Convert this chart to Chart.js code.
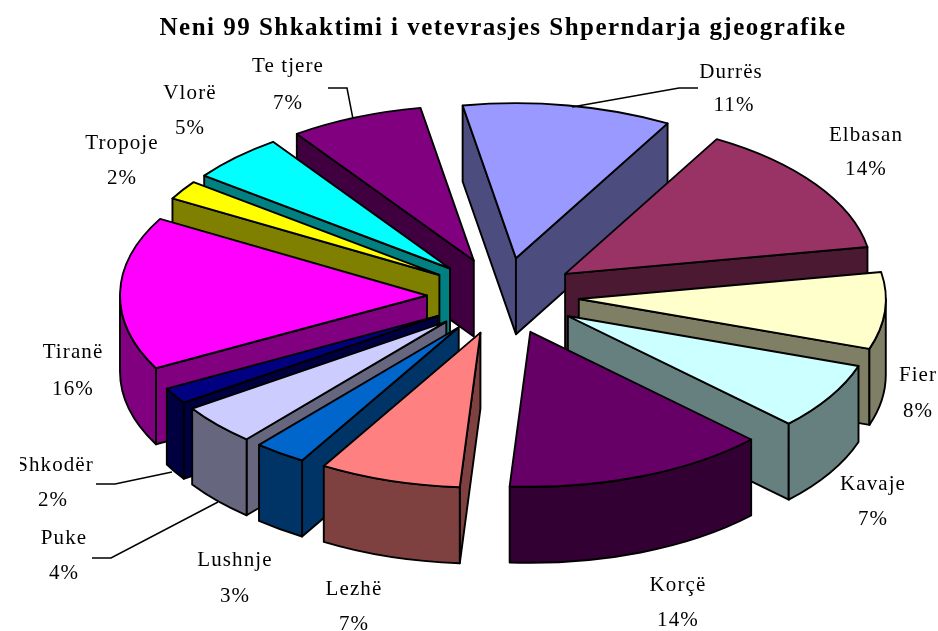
<!DOCTYPE html>
<html>
<head>
<meta charset="utf-8">
<style>html,body{margin:0;padding:0;background:#fff}canvas{display:block}</style>
<script src="https://cdn.jsdelivr.net/npm/chart.js@4/dist/chart.umd.js"></script>
</head>
<body>
<canvas id="c" width="938" height="631" style="width:938px;height:631px"></canvas>
<script>
const chartTitle = "Neni 99 Shkaktimi i vetevrasjes Shperndarja gjeografike";
const categories = ["Durrës","Elbasan","Fier","Kavaje","Korçë","Lezhë","Lushnje","Puke","Shkodër","Tiranë","Tropoje","Vlorë","Te tjere"];
const shares = [11,14,8,7,13.85,7.45,2.75,4.25,1.7,16,2,5,7];
const percentLabels = ["11%","14%","8%","7%","14%","7%","3%","4%","2%","16%","2%","5%","7%"];
const topColours = ["#9999FF","#993366","#FFFFCC","#CCFFFF","#660066","#FF8080","#0066CC","#CCCCFF","#000080","#FF00FF","#FFFF00","#00FFFF","#800080"];
const sideColours = ["#4C4C7F","#4C1933","#7F7F66","#667F7F","#330033","#7F4040","#003366","#66667F","#000040","#800080","#808000","#008080","#400040"];
const labelCentres = [[731,72],[866,135],[918,375],[873,484],[678,585],[354,589],[235,560],[64,538],[55,465],[73,352],[122,143],[190,93],[288,66]];
const percentCentres = [[734,105],[866,169],[918,411],[873,519],[678,620],[354,624],[235,596],[64,573],[53,500],[73,389],[122,178],[190,128],[288,103]];
const leaderLines = [
  [[698,88],[679,88],[572,107]],
  [[96,484],[115,484],[172,472]],
  [[92,558],[111,558],[218,502]],
  [[328,88],[347,88],[353,119]]
];
const view = {radiusX:307, radiusY:155, depth:76, explode:0.2476, rotation:-10, lineWidth:1.9};
const LABEL_FONT = '21px "Liberation Serif"';

class Pie3DController extends Chart.PieController {
  draw() {
    const ctx = this.chart.ctx;
    const arcs = this.getMeta().data;
    const order = arcs.map((a,i)=>i).sort((p,q)=>{
      const mid = a => (a.startAngle+a.endAngle)/2;
      return Math.sin(mid(arcs[p])) - Math.sin(mid(arcs[q]));
    });
    ctx.save();
    ctx.lineJoin = 'round';
    ctx.lineWidth = view.lineWidth;
    ctx.strokeStyle = '#000';
    for (const i of order) {
      const a = arcs[i];
      const m = (a.startAngle+a.endAngle)/2;
      const cx = a.x + view.radiusX*view.explode*Math.cos(m);
      const cy = a.y + view.radiusY*view.explode*Math.sin(m);
      const px = t => cx + view.radiusX*Math.cos(t);
      const py = t => cy + view.radiusY*Math.sin(t);
      const d = view.depth;
      const wall = (t) => {
        ctx.beginPath();
        ctx.moveTo(cx,cy); ctx.lineTo(px(t),py(t));
        ctx.lineTo(px(t),py(t)+d); ctx.lineTo(cx,cy+d); ctx.closePath();
        ctx.fillStyle = sideColours[i]; ctx.fill(); ctx.stroke();
      };
      if (Math.cos(a.startAngle) < 0) wall(a.startAngle);
      if (Math.cos(a.endAngle) > 0) wall(a.endAngle);
      const lo = Math.max(a.startAngle,0), hi = Math.min(a.endAngle,Math.PI);
      if (hi>lo) {
        ctx.beginPath();
        ctx.ellipse(cx,cy,view.radiusX,view.radiusY,0,lo,hi);
        ctx.lineTo(px(hi),py(hi)+d);
        ctx.ellipse(cx,cy+d,view.radiusX,view.radiusY,0,hi,lo,true);
        ctx.closePath();
        ctx.fillStyle = sideColours[i]; ctx.fill(); ctx.stroke();
      }
      ctx.beginPath();
      ctx.moveTo(cx,cy);
      ctx.ellipse(cx,cy,view.radiusX,view.radiusY,0,a.startAngle,a.endAngle);
      ctx.closePath();
      ctx.fillStyle = topColours[i]; ctx.fill(); ctx.stroke();
    }
    ctx.restore();
  }
}
Pie3DController.id = 'pie3d';
Pie3DController.defaults = Chart.PieController.defaults;
Pie3DController.overrides = Chart.PieController.overrides;
Chart.register(Pie3DController);

const labelsPlugin = {
  id:'sliceLabels',
  afterDraw(chart){
    const ctx = chart.ctx;
    ctx.save();
    ctx.lineWidth = 1.5; ctx.strokeStyle='#000';
    for (const line of leaderLines){
      ctx.beginPath();
      line.forEach((p,i)=> i?ctx.lineTo(p[0],p[1]):ctx.moveTo(p[0],p[1]));
      ctx.stroke();
    }
    ctx.beginPath(); ctx.rect(20,0,918,631); ctx.clip();
    ctx.font = LABEL_FONT; ctx.fillStyle='#000';
    ctx.textAlign='center'; ctx.textBaseline='middle';
    ctx.letterSpacing='1.1px';
    categories.forEach((name,i)=>{
      ctx.fillText(name,labelCentres[i][0],labelCentres[i][1]);
      ctx.fillText(percentLabels[i],percentCentres[i][0],percentCentres[i][1]);
    });
    ctx.restore();
  }
};
const titleSpacing = {
  id:'titleSpacing',
  beforeDraw(chart){ chart.ctx.letterSpacing='1.48px'; },
  afterDraw(chart){ chart.ctx.letterSpacing='0px'; }
};

new Chart(document.getElementById('c'),{
  type:'pie3d',
  data:{labels:categories,datasets:[{data:shares,backgroundColor:topColours,borderColor:'#000'}]},
  options:{
    responsive:false,animation:false,rotation:view.rotation,
    layout:{padding:{left:68,right:0,top:0,bottom:89}},
    plugins:{
      legend:{display:false},tooltip:{enabled:false},
      title:{display:true,text:chartTitle,color:'#000',
        font:{family:'"Liberation Serif"',size:25,weight:'bold'},
        padding:{top:14,bottom:6}}
    }
  },
  plugins:[titleSpacing,labelsPlugin]
});
</script>
</body>
</html>
